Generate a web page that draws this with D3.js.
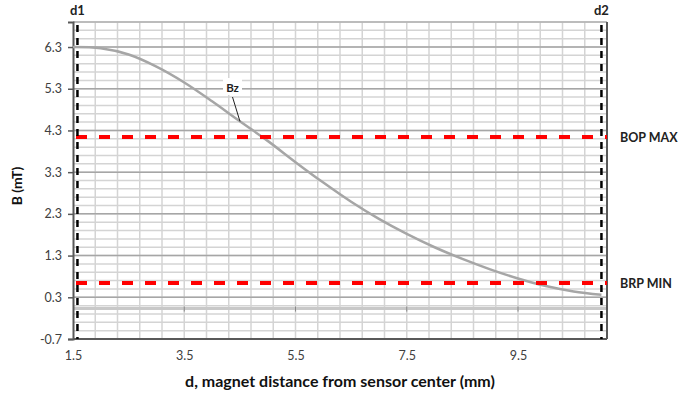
<!DOCTYPE html>
<head>
  <meta charset="utf-8">
  <script src="https://cdn.jsdelivr.net/npm/d3@7/dist/d3.min.js"></script>
  <style>
    body { margin:0; background:#fff; }
    text { font-family: Lato, "Open Sans", sans-serif; }
  </style>
</head>
<body>
<script>
// curve Bz vs distance
var dValues  = [1.5, 2.0, 2.5, 3.0, 3.5, 4.0, 4.5, 5.0, 5.5, 6.0, 6.5, 7.0, 7.5, 8.0, 8.5, 9.0, 9.5, 10.0, 10.5, 11.0];
var bzValues = [6.30, 6.27, 6.12, 5.83, 5.45, 5.00, 4.52, 4.05, 3.54, 3.05, 2.59, 2.18, 1.82, 1.50, 1.22, 0.97, 0.75, 0.57, 0.44, 0.36];

var xTicks = [1.5, 3.5, 5.5, 7.5, 9.5];
var yTicks = [-0.7, 0.3, 1.3, 2.3, 3.3, 4.3, 5.3, 6.3];

var limitNames  = ["BOP MAX", "BRP MIN"];
var limitValues = [4.14, 0.64];

var markerNames  = ["d1", "d2"];
var markerValues = [1.58, 11.0];

var width = 678, height = 394;
var svg = d3.select("body").append("svg")
  .attr("width", width).attr("height", height);

var x = d3.scaleLinear().domain([1.5, 11.1]).range([73, 607]);
var y = d3.scaleLinear().domain([-0.7, 6.9]).range([339, 22]);

var fmt = function(d){ return d.toFixed(1); };

// minor grid
var g = svg.append("g");
g.selectAll("line.vm").data(d3.range(1.9, 11.05, 0.4))
  .enter().append("line")
  .attr("x1", function(d){ return x(d); }).attr("x2", function(d){ return x(d); })
  .attr("y1", y(6.9)).attr("y2", y(-0.7))
  .attr("stroke", "#d4d4d4").attr("stroke-width", 1.5);
g.selectAll("line.hm").data(d3.range(-0.5, 6.95, 0.2))
  .enter().append("line")
  .attr("x1", x(1.5)).attr("x2", x(11.1))
  .attr("y1", function(d){ return y(d); }).attr("y2", function(d){ return y(d); })
  .attr("stroke", "#d4d4d4").attr("stroke-width", 1.5);
g.selectAll("line.hM").data(yTicks.slice(1))
  .enter().append("line")
  .attr("x1", x(1.5)).attr("x2", x(11.1))
  .attr("y1", function(d){ return y(d); }).attr("y2", function(d){ return y(d); })
  .attr("stroke", "#a6a6a6").attr("stroke-width", 1.5);

// horizontal axis line at 0
g.append("line")
  .attr("x1", x(1.5)).attr("x2", x(11.1))
  .attr("y1", y(0.03)).attr("y2", y(0.03))
  .attr("stroke", "#c8c8c8").attr("stroke-width", 3);

// frame
svg.append("line").attr("x1", x(1.5)).attr("x2", x(11.1)).attr("y1", y(6.9)).attr("y2", y(6.9))
  .attr("stroke", "#b0b0b0").attr("stroke-width", 1.5);
svg.append("line").attr("x1", x(11.1)).attr("x2", x(11.1)).attr("y1", y(6.9)).attr("y2", y(-0.7))
  .attr("stroke", "#595959").attr("stroke-width", 2);
svg.append("line").attr("x1", x(1.5)).attr("x2", x(11.1)).attr("y1", y(-0.7)).attr("y2", y(-0.7))
  .attr("stroke", "#595959").attr("stroke-width", 2);

// y axis
var yAxis = svg.append("g").attr("transform", "translate(" + x(1.5) + ",0)")
  .call(d3.axisLeft(y).tickValues(yTicks).tickSize(5).tickPadding(6).tickFormat(fmt));
yAxis.select(".domain").attr("stroke", "#595959").attr("stroke-width", 2);
yAxis.selectAll(".tick line").attr("stroke", "#595959").attr("stroke-width", 1.5);
yAxis.selectAll("text").attr("fill", "#404040").style("font-size", "12.5px")
  .style("font-family", "Lato, sans-serif");

// x axis labels
var xAxis = svg.append("g").attr("transform", "translate(0," + y(-0.7) + ")")
  .call(d3.axisBottom(x).tickValues(xTicks).tickSize(0).tickPadding(12).tickFormat(fmt));
xAxis.select(".domain").remove();
xAxis.selectAll("text").attr("fill", "#404040").style("font-size", "12.5px")
  .style("font-family", "Lato, sans-serif");

// small ticks on the zero line
svg.selectAll("line.xt").data(xTicks.slice(1)).enter().append("line")
  .attr("x1", function(d){ return x(d); }).attr("x2", function(d){ return x(d); })
  .attr("y1", y(0.03) - 2).attr("y2", y(0.03) + 3)
  .attr("stroke", "#888").attr("stroke-width", 1);

// curve
var pts = dValues.map(function(d, i){ return [d, bzValues[i]]; });
svg.append("path").datum(pts)
  .attr("fill", "none").attr("stroke", "#a6a6a6").attr("stroke-width", 2.5)
  .attr("d", d3.line().x(function(d){ return x(d[0]); }).y(function(d){ return y(d[1]); })
    .curve(d3.curveCatmullRom));

// limit lines
limitValues.forEach(function(v, i){
  svg.append("line")
    .attr("x1", x(1.5)).attr("x2", x(11.1))
    .attr("y1", y(v)).attr("y2", y(v))
    .attr("stroke", "#ff0000").attr("stroke-width", 4)
    .attr("stroke-dasharray", "11,12").attr("stroke-dashoffset", -3);
  svg.append("text").attr("x", 620).attr("y", y(v) + 4.5)
    .attr("font-size", "12.5px").attr("font-weight", "bold").attr("fill", "#222")
    .text(limitNames[i]);
});

// d1 / d2 markers
markerValues.forEach(function(v, i){
  svg.append("line")
    .attr("x1", x(v)).attr("x2", x(v))
    .attr("y1", y(6.9)).attr("y2", y(-0.7))
    .attr("stroke", "#000").attr("stroke-width", 2.5)
    .attr("stroke-dasharray", "7,6").attr("stroke-dashoffset", -3);
  svg.append("text").attr("x", x(v)).attr("y", 15)
    .attr("text-anchor", "middle")
    .attr("font-size", "13px").attr("font-weight", "bold").attr("fill", "#222")
    .text(markerNames[i]);
});

// Bz callout
svg.append("line").attr("x1", 232.5).attr("y1", 97).attr("x2", 240).attr("y2", 121.5)
  .attr("stroke", "#222").attr("stroke-width", 1);
svg.append("rect").attr("x", 223).attr("y", 78).attr("width", 19).attr("height", 17)
  .attr("fill", "#fff");
svg.append("text").attr("x", 232.5).attr("y", 91.5).attr("text-anchor", "middle")
  .attr("font-size", "11.5px").attr("font-weight", "bold").attr("fill", "#222")
  .text("Bz");

// axis titles
svg.append("text").attr("x", 340).attr("y", 387).attr("text-anchor", "middle")
  .attr("font-size", "16px").attr("font-weight", "bold").attr("fill", "#111")
  .text("d, magnet distance from sensor center (mm)");
svg.append("text").attr("transform", "translate(22,186) rotate(-90)")
  .attr("text-anchor", "middle")
  .attr("font-size", "14px").attr("font-weight", "bold").attr("fill", "#111")
  .text("B (mT)");
</script>
</body>
